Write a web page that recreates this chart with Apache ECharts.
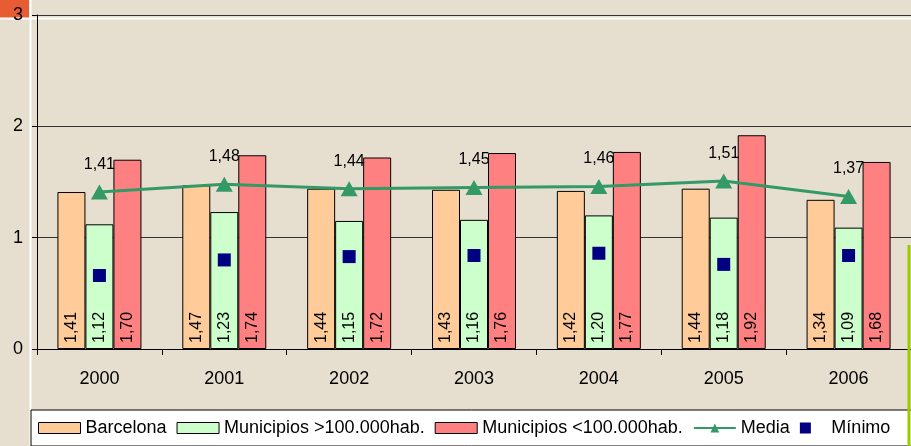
<!DOCTYPE html>
<html>
<head>
    <meta charset="utf-8">
    <title>Media</title>
    <script src="https://cdn.jsdelivr.net/npm/echarts@6/dist/echarts.min.js"></script>
    <style>
        body { margin: 0; background: #E6DECF; }
    </style>
</head>
<body>
    <div id="main" style="width: 911px;height:446px;"></div>
    <script type="text/javascript">
        var years = ['2000', '2001', '2002', '2003', '2004', '2005', '2006'];
        var barcelona = [1.41, 1.47, 1.44, 1.43, 1.42, 1.44, 1.34];
        var munGrandes = [1.12, 1.23, 1.15, 1.16, 1.20, 1.18, 1.09];
        var munPeque = [1.70, 1.74, 1.72, 1.76, 1.77, 1.92, 1.68];
        var media = [1.41, 1.48, 1.44, 1.45, 1.46, 1.51, 1.37];
        var minimo = [0.66, 0.80, 0.83, 0.84, 0.86, 0.76, 0.84];
        var yTicks = [0, 1, 2, 3];

        var font = 'Liberation Sans, Arial, sans-serif';
        function coma(v) {
            return v.toFixed(2).replace('.', ',');
        }

        var myChart = echarts.init(document.getElementById('main'));

        // etiqueta vertical dentro de la barra
        var barLabel = {
            show: true,
            position: 'insideBottom',
            rotate: 90,
            align: 'left',
            verticalAlign: 'middle',
            distance: 6,
            color: '#000',
            fontFamily: font,
            fontSize: 16,
            formatter: function (p) { return coma(p.value); }
        };

        function barSerie(name, data, color) {
            return {
                name: name,
                type: 'bar',
                data: data,
                barWidth: 28,
                barGap: '0%',
                itemStyle: { color: color, borderColor: '#000', borderWidth: 1 },
                label: barLabel,
                emphasis: { disabled: true }
            };
        }

        var borde = { borderColor: '#000', borderWidth: 1 };

        var option = {
            backgroundColor: '#E6DECF',
            animation: false,
            textStyle: { fontFamily: font },
            grid: {
                left: 37,
                top: 15,
                bottom: 97,
                width: 882
            },
            legend: {
                left: 31,
                top: 410,
                width: 1200,
                padding: [9, 40, 9, 7],
                backgroundColor: '#fff',
                borderColor: '#000',
                borderWidth: 1,
                itemWidth: 42,
                itemHeight: 11,
                itemGap: 10,
                textStyle: { color: '#000', fontSize: 18, fontFamily: font },
                data: [
                    { name: 'Barcelona', icon: 'rect', itemStyle: borde },
                    { name: 'Municipios >100.000hab.', icon: 'rect', itemStyle: borde },
                    { name: 'Municipios <100.000hab.', icon: 'rect', itemStyle: borde },
                    { name: 'Media' },
                    { name: 'Mínimo', icon: 'path://M0,0h10v10h-10z' }
                ]
            },
            xAxis: {
                type: 'category',
                data: years,
                axisLine: { lineStyle: { color: '#000', width: 1 } },
                axisTick: { show: true, length: 6, lineStyle: { color: '#000' } },
                axisLabel: { color: '#000', fontSize: 18, margin: 21, fontFamily: font }
            },
            yAxis: {
                type: 'value',
                min: yTicks[0],
                max: yTicks[yTicks.length - 1],
                interval: 1,
                axisLine: { show: true, lineStyle: { color: '#000' } },
                axisTick: { show: true, length: 5, lineStyle: { color: '#000' } },
                axisLabel: { color: '#000', fontSize: 18, margin: 14, fontFamily: font },
                splitLine: { show: true, lineStyle: { color: '#333', width: 1 } }
            },
            series: [
                barSerie('Barcelona', barcelona, '#FFCC99'),
                barSerie('Municipios >100.000hab.', munGrandes, '#CCFFCC'),
                barSerie('Municipios <100.000hab.', munPeque, '#FF8080'),
                {
                    name: 'Media',
                    type: 'line',
                    data: media,
                    symbol: 'triangle',
                    symbolSize: [17, 15],
                    lineStyle: { color: '#339966', width: 3 },
                    itemStyle: { color: '#339966' },
                    label: {
                        show: true,
                        position: 'top',
                        distance: 12,
                        color: '#000',
                        fontSize: 16,
                        fontFamily: font,
                        formatter: function (p) { return coma(p.value); }
                    },
                    z: 5
                },
                {
                    name: 'Mínimo',
                    type: 'scatter',
                    data: minimo,
                    symbol: 'rect',
                    symbolSize: 13,
                    itemStyle: { color: '#000080', opacity: 1 },
                    z: 6
                }
            ],
            graphic: [
                { type: 'rect', left: 0, top: 0, shape: { width: 29, height: 18 }, style: { fill: '#E85C33' }, z: -1 },
                { type: 'line', shape: { x1: 0, y1: 18.5, x2: 911, y2: 18.5 }, style: { stroke: '#fff', lineWidth: 2 }, z: 0 },
                { type: 'line', shape: { x1: 30.5, y1: 0, x2: 30.5, y2: 446 }, style: { stroke: '#fff', lineWidth: 2 }, z: 0 },
                { type: 'line', shape: { x1: 909, y1: 245, x2: 909, y2: 446 }, style: { stroke: '#99CC00', lineWidth: 3 }, z: 100 }
            ]
        };

        myChart.setOption(option);
    </script>
</body>
</html>
